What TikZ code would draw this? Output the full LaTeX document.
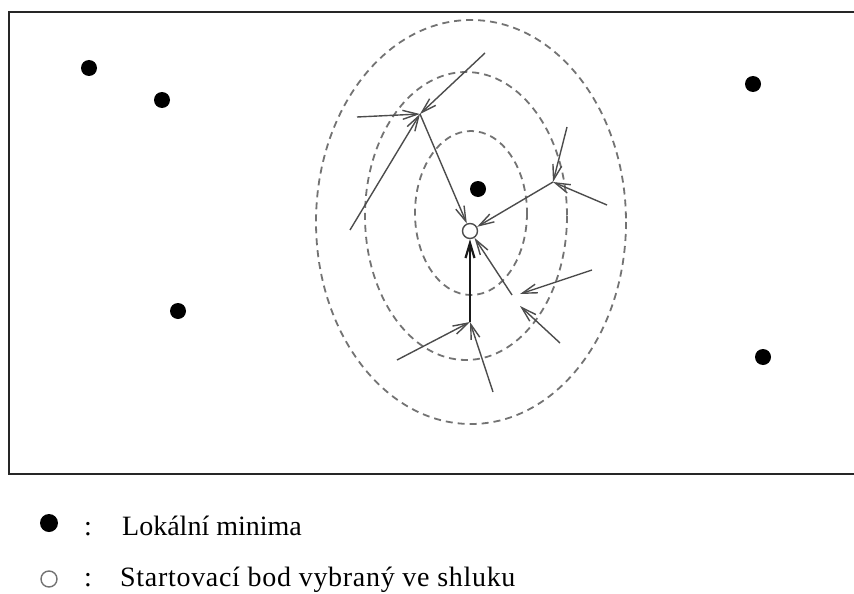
\documentclass[tikz,border=0pt]{standalone}
\usepackage{fontspec}
\setmainfont{Liberation Serif}
\usepackage{tikz}
\usetikzlibrary{arrows.meta}

\begin{document}
\begin{tikzpicture}[x=1pt, y=-1pt,
      dot/.style={circle, fill=black, inner sep=0pt, minimum size=16pt},
      odot/.style={circle, draw=black!70, line width=1.4pt, fill=white, inner sep=0pt, minimum size=15pt},
      lvl/.style={draw=black!55, line width=1.8pt, dash pattern=on 7pt off 5pt},
      mv/.style={draw=black!70, line width=1.4pt, -{Straight Barb[length=15pt, width=9pt]}},
      lbl/.style={font=\fontsize{28}{32}\selectfont, anchor=base west, inner sep=0pt},
      >=Stealth]
    \useasboundingbox (0,0) rectangle (854,594);
    \draw[line width=2.5pt, black!85] (860,12) -- (9,12) -- (9,474) -- (860,474);
    \draw[lvl] (471,222) ellipse [x radius=155, y radius=202];
    \draw[lvl] (466,216) ellipse [x radius=101, y radius=144];
    \draw[lvl] (471,213) ellipse [x radius=56, y radius=82];
    \node[dot] (m1) at (89,68)   {};
    \node[dot] (m2) at (162,100) {};
    \node[dot] (m3) at (178,311) {};
    \node[dot] (m4) at (753,84)  {};
    \node[dot] (m5) at (763,357) {};
    \node[dot] (m6) at (478,189) {};
    \node[odot] (s) at (470,231) {};
    \coordinate (j1) at (420,114);
    \coordinate (j2) at (553,182);
    \coordinate (j3) at (470,322);
    \coordinate (a1) at (485,53);
    \coordinate (a2) at (357,117);
    \coordinate (a3) at (350,230);
    \coordinate (b1) at (567,127);
    \coordinate (b2) at (607,205);
    \coordinate (c1) at (397,360);
    \coordinate (c2) at (493,392);
    \coordinate (d1) at (512,295);
    \coordinate (d2) at (592,270);
    \coordinate (d3) at (560,343);
    \coordinate (e1) at (520,294);
    \coordinate (e2) at (520,306);
    \draw[mv] (a1)--(j1);
    \draw[mv] (a2)--(j1);
    \draw[mv] (a3)--(j1);
    \draw[mv] (j1)--(s);
    \draw[mv] (b1)--(j2);
    \draw[mv] (b2)--(j2);
    \draw[mv] (j2)--(s);
    \draw[mv] (c1)--(j3);
    \draw[mv] (c2)--(j3);
    \draw[mv, line width=2.2pt, draw=black!90] (j3)--(s);
    \draw[mv] (d2)--(e1);
    \draw[mv] (d3)--(e2);
    \draw[mv] (d1)--(s);
    \node[dot, minimum size=18pt] (k1) at (49,523) {};
    \node[odot, minimum size=16pt, draw=black!55] (k2) at (49,579) {};
    \node[lbl] (c1l) at (84,535) {:};
    \node[lbl] (c2l) at (84,586) {:};
    \node[lbl] (t1) at (122,535) {Lokální minima};
    \node[lbl] (t2) at (120,586) {\addfontfeature{LetterSpace=2.5}Startovací bod vybraný ve shluku};
  \end{tikzpicture}
\end{document}
